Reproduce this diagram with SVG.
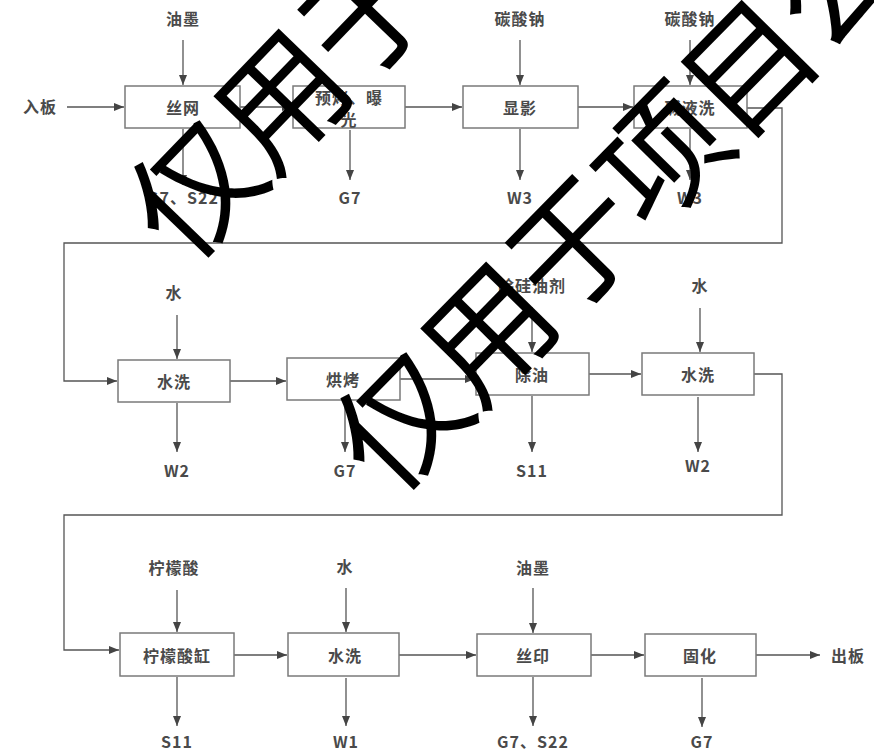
<svg xmlns="http://www.w3.org/2000/svg" width="874" height="754" viewBox="0 0 874 754">
<defs>
<marker id="arr" markerUnits="userSpaceOnUse" markerWidth="11" markerHeight="8" refX="10" refY="4" orient="auto">
<path d="M0,0 L10,4 L0,8 z" fill="#444"/>
</marker>
<style>
.box{fill:#fff;stroke:#7a7a7a;stroke-width:1.5}
.t{font-family:"Noto Sans CJK SC","Liberation Sans",sans-serif;font-size:16px;font-weight:bold;fill:#4a4a4a;text-anchor:middle;dominant-baseline:central;letter-spacing:1px}
.c{fill:none;stroke:#555;stroke-width:1.3}
.a{marker-end:url(#arr)}
.wm{font-family:"Noto Sans CJK SC",sans-serif;font-size:128px;fill:#000;letter-spacing:-4px}
</style>
</defs>
<rect width="874" height="754" fill="#fff"/>
<g id="connectors">
<line class="c a" x1="67" y1="107" x2="124" y2="107"/>
<line class="c a" x1="183" y1="40" x2="183" y2="85"/>
<line class="c a" x1="183" y1="129" x2="183" y2="185"/>
<line class="c a" x1="240" y1="107" x2="292" y2="107"/>
<line class="c a" x1="350" y1="130" x2="350" y2="180"/>
<line class="c a" x1="405" y1="107" x2="462" y2="107"/>
<line class="c a" x1="520" y1="40" x2="520" y2="85"/>
<line class="c a" x1="520" y1="129" x2="520" y2="180"/>
<line class="c a" x1="578" y1="107" x2="633" y2="107"/>
<line class="c a" x1="690" y1="40" x2="690" y2="85"/>
<line class="c a" x1="690" y1="129" x2="690" y2="180"/>
<polyline class="c a" points="747,108 782,108 782,243 64,243 64,381 117,381"/>
<line class="c a" x1="177" y1="315" x2="177" y2="359"/>
<line class="c a" x1="177" y1="403" x2="177" y2="452"/>
<line class="c a" x1="230" y1="381" x2="286" y2="381"/>
<line class="c a" x1="345" y1="401" x2="345" y2="452"/>
<line class="c a" x1="400" y1="379" x2="475" y2="379"/>
<line class="c a" x1="532" y1="307" x2="532" y2="352"/>
<line class="c a" x1="532" y1="396" x2="532" y2="452"/>
<line class="c a" x1="589" y1="374" x2="641" y2="374"/>
<line class="c a" x1="700" y1="308" x2="700" y2="352"/>
<line class="c a" x1="698" y1="397" x2="698" y2="452"/>
<polyline class="c a" points="754,374 782,374 782,515 64,515 64,650 119,650"/>
<line class="c a" x1="177" y1="590" x2="177" y2="632"/>
<line class="c a" x1="177" y1="677" x2="177" y2="726"/>
<line class="c a" x1="234" y1="655" x2="287" y2="655"/>
<line class="c a" x1="346" y1="588" x2="346" y2="632"/>
<line class="c a" x1="346" y1="678" x2="346" y2="726"/>
<line class="c a" x1="399" y1="655" x2="476" y2="655"/>
<line class="c a" x1="533" y1="588" x2="533" y2="633"/>
<line class="c a" x1="533" y1="677" x2="533" y2="726"/>
<line class="c a" x1="591" y1="655" x2="644" y2="655"/>
<line class="c a" x1="702" y1="678" x2="702" y2="727"/>
<line class="c a" x1="756" y1="655" x2="820" y2="655"/>
</g>
<g id="labels">
<text class="t" x="40" y="106">入板</text>
<text class="t" x="183" y="18">油墨</text>
<text class="t" x="183" y="197">G7、S22</text>
<text class="t" x="350" y="197">G7</text>
<text class="t" x="520" y="18">碳酸钠</text>
<text class="t" x="520" y="197">W3</text>
<text class="t" x="690" y="18">碳酸钠</text>
<text class="t" x="690" y="197">W3</text>
<text class="t" x="174" y="292">水</text>
<text class="t" x="177" y="470">W2</text>
<text class="t" x="345" y="470">G7</text>
<text class="t" x="532" y="285">除硅油剂</text>
<text class="t" x="532" y="470">S11</text>
<text class="t" x="700" y="285">水</text>
<text class="t" x="698" y="465">W2</text>
<text class="t" x="174" y="567">柠檬酸</text>
<text class="t" x="177" y="741">S11</text>
<text class="t" x="345" y="566">水</text>
<text class="t" x="346" y="741">W1</text>
<text class="t" x="533" y="567">油墨</text>
<text class="t" x="533" y="741">G7、S22</text>
<text class="t" x="702" y="741">G7</text>
<text class="t" x="848" y="655">出板</text>
</g>
<g id="n-siwang"><rect class="box" x="125" y="86" width="115" height="42"/><text class="t" x="183" y="107">丝网</text></g>
<g id="n-yukao"><rect class="box" x="293" y="86" width="112" height="42"/><text class="t" x="349" y="97">预烤、曝</text><text class="t" x="349" y="119">光</text></g>
<g id="n-xianying"><rect class="box" x="463" y="86" width="115" height="42"/><text class="t" x="520" y="107">显影</text></g>
<g id="n-jianyexi"><rect class="box" x="634" y="86" width="113" height="42"/><text class="t" x="690" y="107">碱液洗</text></g>
<g id="n-shuixi1"><rect class="box" x="118" y="360" width="112" height="42"/><text class="t" x="174" y="381">水洗</text></g>
<g id="n-hongkao"><rect class="box" x="287" y="358" width="113" height="42"/><text class="t" x="343" y="379">烘烤</text></g>
<g id="n-chuyou"><rect class="box" x="476" y="353" width="113" height="42"/><text class="t" x="532" y="374">除油</text></g>
<g id="n-shuixi2"><rect class="box" x="642" y="353" width="112" height="42"/><text class="t" x="698" y="374">水洗</text></g>
<g id="n-ningmeng"><rect class="box" x="120" y="633" width="114" height="43"/><text class="t" x="177" y="655">柠檬酸缸</text></g>
<g id="n-shuixi3"><rect class="box" x="288" y="633" width="111" height="43"/><text class="t" x="345" y="655">水洗</text></g>
<g id="n-siyin"><rect class="box" x="477" y="634" width="114" height="42"/><text class="t" x="533" y="655">丝印</text></g>
<g id="n-guhua"><rect class="box" x="645" y="634" width="111" height="42"/><text class="t" x="700" y="655">固化</text></g>
<g id="watermark">
<text class="wm" transform="translate(196,190) rotate(-46)" x="-64" y="46">仅用于项目公示</text>
<text class="wm" transform="translate(402,422) rotate(-45.5)" x="-64" y="46">仅用于项目公示</text>
</g>
</svg>
